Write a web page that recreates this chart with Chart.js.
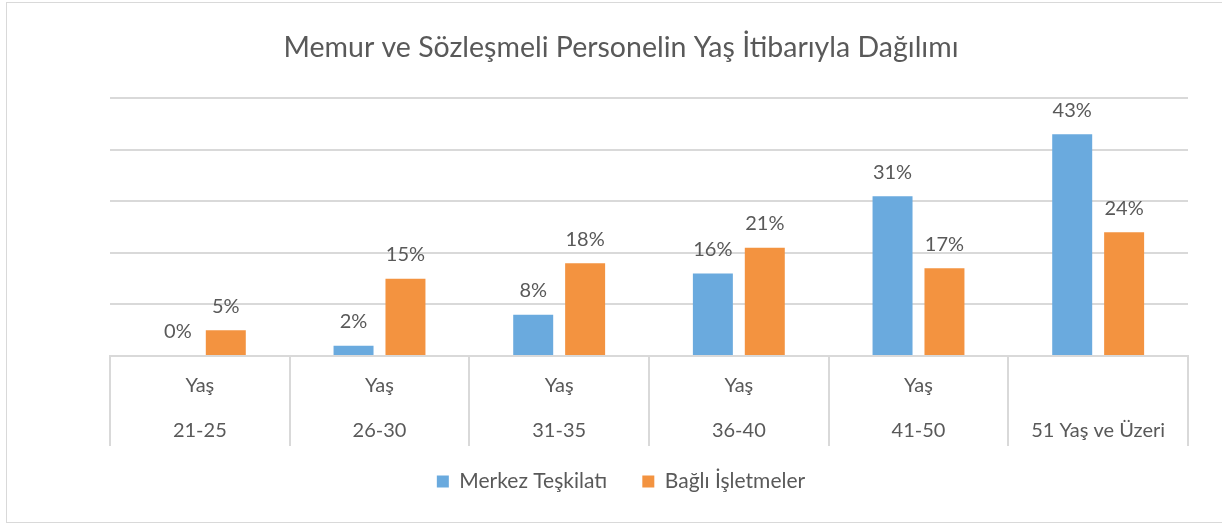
<!DOCTYPE html>
<html>
<head>
<meta charset="utf-8">
<script src="https://cdn.jsdelivr.net/npm/chart.js@4.4.1/dist/chart.umd.min.js"></script>
<style>
  html, body { margin: 0; padding: 0; background: #fff; }
  #wrap { position: relative; width: 1222px; height: 525px; }
  #frame { position: absolute; left: 6px; top: 2px; width: 1230px; height: 521px; border: 1px solid #d9d9d9; box-sizing: border-box; }
  canvas { position: absolute; left: 0; top: 0; }
</style>
</head>
<body>
<div id="wrap">
  <div id="frame"></div>
  <canvas id="ageChart" width="1222" height="525"></canvas>
</div>
<script>
// Kategoriler ve seriler
const categories = [['Yaş', '21-25'], ['Yaş', '26-30'], ['Yaş', '31-35'], ['Yaş', '36-40'], ['Yaş', '41-50'], ['', '51 Yaş ve Üzeri']];
const merkez = [0, 2, 8, 16, 31, 43];
const bagli = [5, 15, 18, 21, 17, 24];
const seriesNames = ['Merkez Teşkilatı', 'Bağlı İşletmeler'];

const textColor = '#595959';
const gridColor = '#d9d9d9';

// Bar üstü yüzde etiketleri
const valueLabels = {
  id: 'valueLabels',
  afterDatasetsDraw(chart) {
    const ctx = chart.ctx;
    ctx.save();
    ctx.font = '20px Lato';
    ctx.fillStyle = textColor;
    ctx.textAlign = 'center';
    ctx.textBaseline = 'middle';
    chart.data.datasets.forEach((ds, i) => {
      chart.getDatasetMeta(i).data.forEach((bar, j) => {
        ctx.fillText(ds.data[j] + '%', bar.x + (ds.data[j] === 0 ? 4 : 0), bar.y - 24);
      });
    });
    ctx.restore();
  }
};

// Kategori ayraçları (eksen altındaki dikey çizgiler)
const categoryDividers = {
  id: 'categoryDividers',
  afterDraw(chart) {
    const x = chart.scales.x;
    const n = x.ticks.length;
    const ctx = chart.ctx;
    ctx.save();
    ctx.strokeStyle = gridColor;
    ctx.lineWidth = 2;
    ctx.beginPath();
    for (let i = 0; i <= n; i++) {
      const px = Math.round(x.left + i * x.width / n);
      ctx.moveTo(px, x.top);
      ctx.lineTo(px, x.top + 90);
    }
    ctx.stroke();
    ctx.restore();
  }
};

new Chart(document.getElementById('ageChart'), {
  type: 'bar',
  data: {
    labels: categories,
    datasets: [{
      label: seriesNames[0],
      data: merkez,
      backgroundColor: '#6aaade',
    }, {
      label: seriesNames[1],
      data: bagli,
      backgroundColor: '#f39340',
    }],
  },
  options: {
    responsive: false,
    animation: false,
    categoryPercentage: 0.578,
    barPercentage: 0.77,
    layout: { padding: { left: 54, right: 34, top: 0, bottom: 23 } },
    scales: {
      x: {
        offset: true,
        grid: { display: false },
        border: { color: gridColor, width: 2 },
        ticks: { color: textColor, font: { family: 'Lato', size: 20, lineHeight: 45.5 / 20 }, padding: -1.5, autoSkip: false, maxRotation: 0 },
      },
      y: {
        min: 0,
        max: 50,
        afterFit(scale) { scale.width = 56; },
        ticks: { display: false, stepSize: 10 },
        grid: { color: gridColor, drawTicks: false, lineWidth: 2 },
        border: { display: false },
      },
    },
    plugins: {
      title: {
        display: true,
        text: 'Memur ve Sözleşmeli Personelin Yaş İtibarıyla Dağılımı',
        color: textColor,
        font: { family: 'Lato', size: 28.5, weight: 'normal', lineHeight: 1.2 },
        padding: { top: 31, bottom: 33 },
      },
      legend: {
        position: 'bottom',
        labels: {
          color: textColor,
          font: { family: 'Lato', size: 21 },
          boxWidth: 12,
          boxHeight: 12,
          padding: 19,
          generateLabels(chart) {
            const items = Chart.defaults.plugins.legend.labels.generateLabels(chart);
            items[0].text += '   ';
            return items;
          },
        },
      },
      tooltip: { enabled: false },
    },
  },
  plugins: [valueLabels, categoryDividers],
});
</script>
</body>
</html>
